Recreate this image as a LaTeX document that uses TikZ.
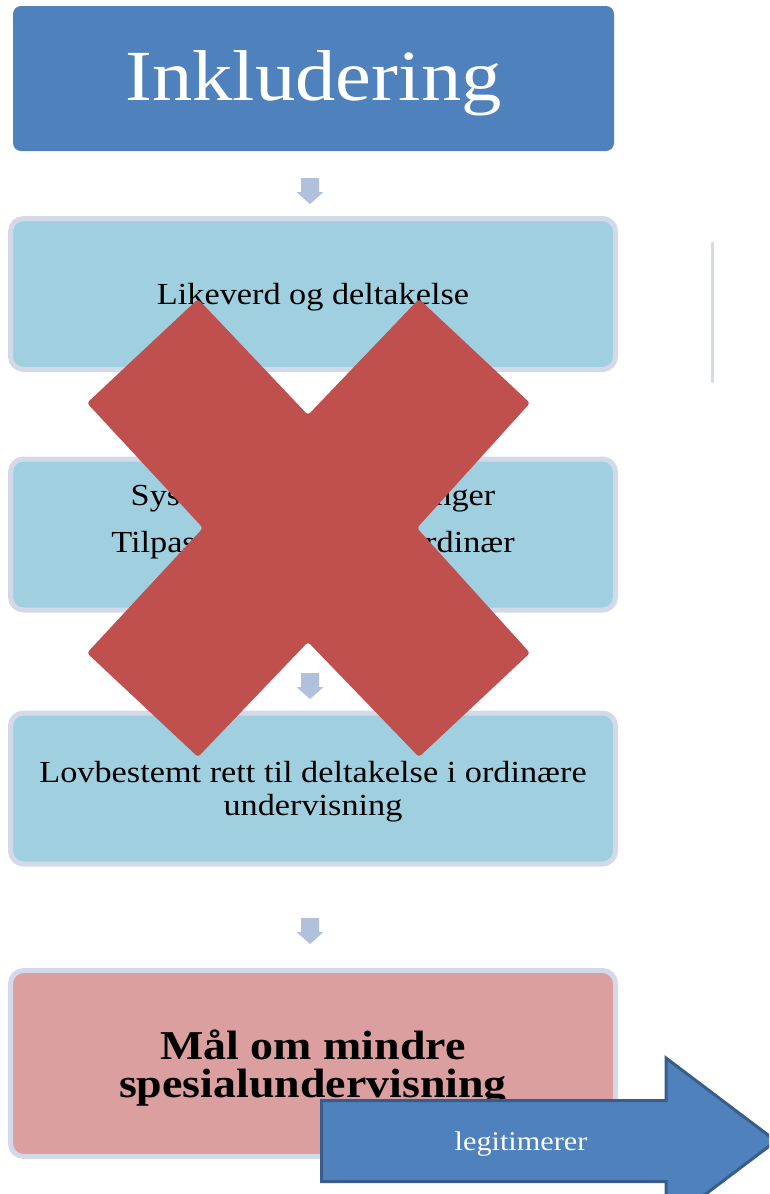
\documentclass[tikz,border=0pt]{standalone}
\usepackage{fontspec}
\setmainfont{Liberation Serif}[FakeStretch=1.12]
\definecolor{headblue}{HTML}{4F81BD}
\definecolor{arrowedge}{HTML}{385D8A}
\definecolor{boxfill}{HTML}{A0D0E0}
\definecolor{boxline}{HTML}{D3D9E8}
\definecolor{pinkfill}{HTML}{DA9F9E}
\definecolor{smallarrow}{HTML}{B1C0DD}
\definecolor{crossred}{HTML}{C0504D}
\begin{document}
\begin{tikzpicture}[x=1pt,y=-1pt,
    stepbox/.style={draw=boxline, line width=5pt, fill=boxfill, rounded corners=13pt,
      minimum width=605pt, minimum height=151pt, inner sep=0pt, align=center,
      text depth=0pt, font=\fontsize{30.6}{33}\selectfont},
    downarrow/.pic={\fill[smallarrow] (-9,-13) -- (9,-13) -- (9,1) -- (13.5,1) -- (0,13)
      -- (-13.5,1) -- (-9,1) -- cycle;}]
\useasboundingbox (0,0) rectangle (769,1194);
\clip (0,0) rectangle (769,1194);
\node[fill=headblue, rounded corners=8pt, minimum width=601pt, minimum height=145pt,
  text=white, font=\fontsize{72}{72}\selectfont, text height=49pt, text depth=6pt] (incl) at (313.5,78.5) {Inkludering};
\node[stepbox] (likeverd) at (313,294) {Likeverd og deltakelse};
\node[stepbox] (system) at (313,534.5) {Systemrettede tilpasninger\\[14pt]Tilpasset opplæring i ordinær\\undervisning};
\node[stepbox] (lov) at (313,788.5) {Lovbestemt rett til deltakelse i ordinære\\undervisning};
\node[stepbox, fill=pinkfill, minimum height=186pt, font=\bfseries\fontsize{41}{38}\selectfont] (maal) at (313,1063.5) {Mål om mindre\\spesialundervisning};
\draw[boxline, line width=2.5pt, line cap=round] (712.5,243) -- (712.5,382);
\foreach \y/\name in {191/pil1, 437/pil2, 686/pil3, 931/pil4}
  \pic (\name) at (310,\y) {downarrow};
\fill[crossred, rounded corners=3pt] (198,299) -- (308,415) -- (419,299) -- (530,403) -- (417,528)
  -- (530,653) -- (419,757) -- (308,642) -- (198,757) -- (87,653) -- (203,528) -- (87,403) -- cycle;
\draw[arrowedge, fill=headblue, line width=3pt] (321.5,1100.5) -- (666,1100.5) -- (666,1058)
  -- (776,1141) -- (666,1224) -- (666,1181.5) -- (321.5,1181.5) -- cycle;
\node[text=white, text depth=0pt, font=\fontsize{27}{27}\selectfont] (legit) at (521,1141) {legitimerer};
\end{tikzpicture}
\end{document}
